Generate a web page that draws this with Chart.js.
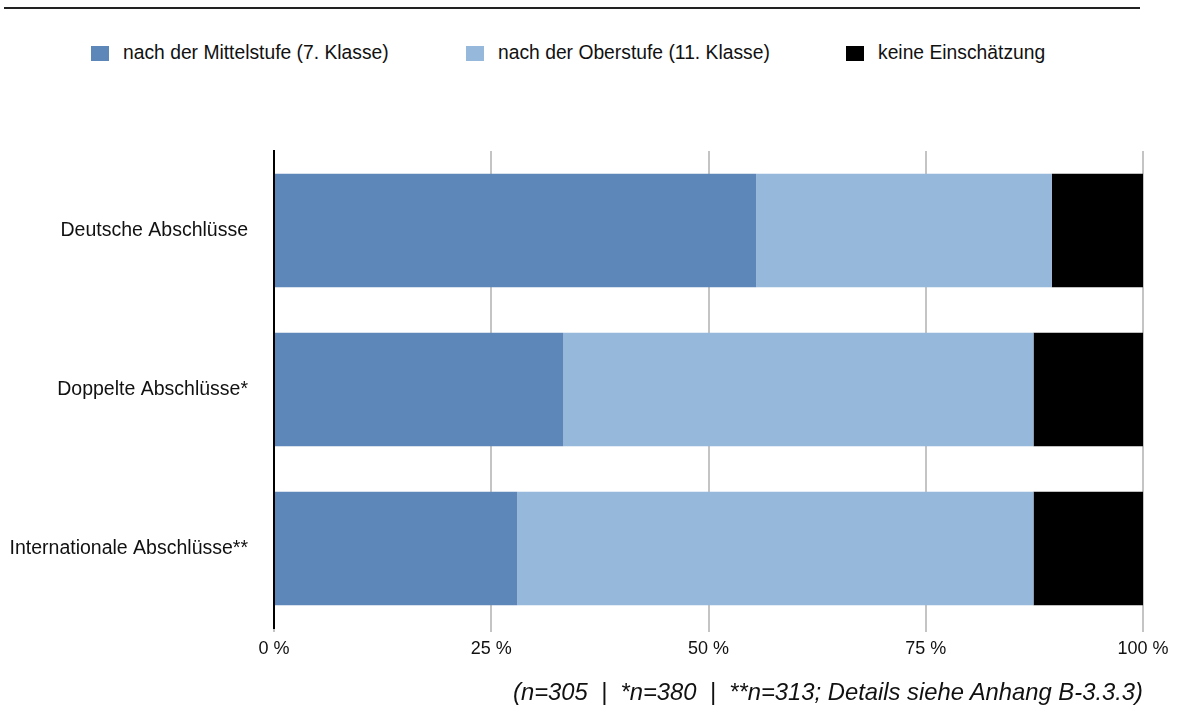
<!DOCTYPE html>
<html>
<head>
<meta charset="utf-8">
<script src="https://cdn.jsdelivr.net/npm/chart.js@4.4.0/dist/chart.umd.min.js"></script>
<style>
  body { margin: 0; background: #fff; font-family: "Liberation Sans", Arial, sans-serif; }
  #wrap { position: relative; width: 1177px; height: 707px; overflow: hidden; }
  #topline { position: absolute; left: 4px; top: 7px; width: 1136px; height: 2px; background: #222; }
  #legend { position: absolute; top: 42px; left: 0; width: 1177px; height: 24px; font-size: 19.3px; color: #111; }
  .item { position: absolute; top: 0; display: flex; align-items: center; height: 22px; }
  .box { width: 18px; height: 15px; margin-right: 14px; }
  #note { position: absolute; right: 34px; top: 678px; font-style: italic; font-size: 23.8px; color: #111; white-space: pre; }
  canvas { position: absolute; left: 0; top: 0; }
</style>
</head>
<body>
<div id="wrap">
  <div id="topline"></div>
  <div id="legend"></div>
  <canvas id="chart" width="1177" height="707"></canvas>
  <div id="note">(n=305  |  *n=380  |  **n=313; Details siehe Anhang B-3.3.3)</div>
</div>
<script>
const categories = ["Deutsche Abschlüsse", "Doppelte Abschlüsse*", "Internationale Abschlüsse**"];
const seriesNames = ["nach der Mittelstufe (7. Klasse)", "nach der Oberstufe (11. Klasse)", "keine Einschätzung"];
const mittelstufe = [55.5, 33.3, 28.0];
const oberstufe = [34.0, 54.1, 59.4];
const keine = [10.5, 12.6, 12.6];
const colors = ["#5e87b9", "#95b8db", "#000000"];
const legendX = [91, 466, 846];

// legend drawn as html so items sit where they do in the original
const legend = document.getElementById("legend");
seriesNames.forEach((name, i) => {
  const item = document.createElement("div");
  item.className = "item";
  item.style.left = legendX[i] + "px";
  item.innerHTML = `<div class="box" style="background:${colors[i]}"></div><span>${name}</span>`;
  legend.appendChild(item);
});

const family = "'Liberation Sans', Arial, sans-serif";

new Chart(document.getElementById("chart").getContext("2d"), {
  type: "bar",
  data: {
    labels: categories,
    datasets: [
      { label: seriesNames[0], data: mittelstufe, backgroundColor: colors[0] },
      { label: seriesNames[1], data: oberstufe, backgroundColor: colors[1] },
      { label: seriesNames[2], data: keine, backgroundColor: colors[2] },
    ],
  },
  options: {
    indexAxis: "y",
    responsive: false,
    animation: false,
    layout: { padding: { top: 151, right: 34, left: 0, bottom: 0 } },
    datasets: { bar: { barPercentage: 0.715, categoryPercentage: 1, borderWidth: 0 } },
    plugins: { legend: { display: false }, tooltip: { enabled: false } },
    scales: {
      x: {
        stacked: true,
        min: 0,
        max: 100,
        ticks: {
          stepSize: 25,
          padding: 6,
          color: "#111",
          font: { family: family, size: 18 },
          callback: (v) => v + " %",
        },
        grid: { color: "#c4c4c4", lineWidth: 2, tickLength: 4 },
        border: { display: false },
        afterFit: (scale) => { scale.height = 79; },
      },
      y: {
        stacked: true,
        ticks: { padding: 26, color: "#111", font: { family: family, size: 19.5 } },
        grid: { display: false, drawTicks: false },
        border: { display: true, color: "#000", width: 2 },
        afterFit: (scale) => { scale.width = 274; },
      },
    },
  },
});
</script>
</body>
</html>
